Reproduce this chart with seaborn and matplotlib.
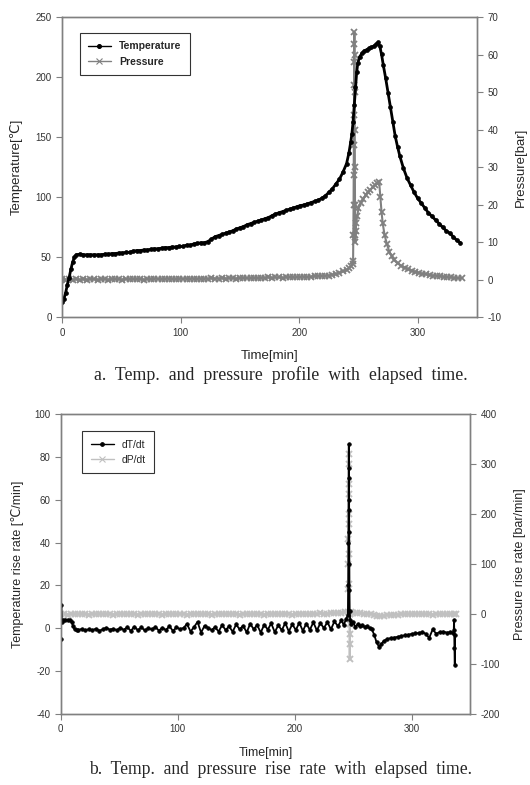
import matplotlib
matplotlib.use("Agg")
import matplotlib.pyplot as plt
import seaborn as sns

# ---- (a) temperature / pressure profile ----
time_temp = [0, 1.5, 3, 4.5, 6, 7.5, 9, 10.5, 12,
             15, 18, 21, 24, 27, 30, 33, 36, 39, 42,
             45, 48, 51, 54, 57, 60, 63, 66, 69, 72,
             75, 78, 81, 84, 87, 90, 93, 96, 99, 102,
             105, 108, 111, 114, 117, 120, 123, 126, 129, 132,
             135, 138, 141, 144, 147, 150, 153, 156, 159, 162,
             165, 168, 171, 174, 177, 180, 183, 186, 189, 192,
             195, 198, 201, 204, 207, 210, 213, 216, 219, 222,
             225, 228, 231, 234, 237, 240,
             242, 243.5, 244.5, 245.5, 246.5, 247.5, 248.5, 249.5,
             251, 253, 255, 257, 259, 261, 263, 265, 266.5,
             268, 269.5, 271, 273, 275, 277, 279, 281, 283, 285,
             288, 291, 294, 297, 300, 303, 306, 309, 312, 315,
             318, 321, 324, 327, 330, 333, 336]
temperature = [13, 15, 20, 27, 33, 40, 46, 50, 52,
               52.5, 52, 52, 52, 52, 52, 52, 52.5, 52.5, 53,
               53, 53.5, 53.5, 54, 54, 55, 55.5, 55.5, 56, 56,
               56.5, 57, 57, 57.5, 58, 58, 58.5, 58.5, 59, 59,
               60, 60, 61, 61.5, 62, 62, 63, 65, 67, 68,
               69, 70, 71, 72, 73.5, 74.5, 75.5, 77, 78, 79,
               80, 81, 82, 83, 84.5, 86, 87, 88, 89, 90,
               91, 92, 93, 93.5, 94.5, 95.5, 96.5, 97.5, 99, 101,
               104, 107, 111, 115, 121, 128,
               137, 146, 153, 163, 177, 192, 204, 212,
               217, 220, 222, 223, 224, 225, 226, 227.5, 229,
               226, 219, 210, 199, 187, 175, 163, 151, 142, 134,
               124, 116, 110, 104, 99, 95, 91, 87, 84, 81,
               78, 75, 72, 70, 67, 64, 62]

time_pres = [0, 3, 6, 9, 12, 15, 18, 21, 24, 27,
             30, 33, 36, 39, 42, 45, 48, 51, 54, 57,
             60, 63, 66, 69, 72, 75, 78, 81, 84, 87,
             90, 93, 96, 99, 102, 105, 108, 111, 114, 117,
             120, 123, 126, 129, 132, 135, 138, 141, 144, 147,
             150, 153, 156, 159, 162, 165, 168, 171, 174, 177,
             180, 183, 186, 189, 192, 195, 198, 201, 204, 207,
             210, 213, 216, 219, 222, 225, 228, 231, 234, 237,
             240, 242, 244, 245,
             245.5, 245.7, 245.9, 246.0, 246.1, 246.2, 246.3, 246.4, 246.5,
             246.6, 246.7, 246.8, 246.9, 247.0, 247.1, 247.2, 247.4,
             247.7, 248, 249, 250, 252, 254, 256, 258, 260, 262,
             264, 266, 267.5, 268.5, 269.5, 270.5, 272, 274, 276, 278, 280,
             283, 286, 289, 292, 295, 298, 301, 304, 307, 310,
             313, 316, 319, 322, 325, 328, 331, 334, 337]
pressure = [0.1, 0.0, 0.2, 0.0, 0.1, 0.0, 0.1, 0.0, 0.2, 0.1,
            0.0, 0.1, 0.2, 0.0, 0.1, 0.2, 0.1, 0.0, 0.2, 0.1,
            0.2, 0.1, 0.2, 0.0, 0.2, 0.1, 0.3, 0.2, 0.1, 0.2,
            0.3, 0.2, 0.1, 0.3, 0.2, 0.3, 0.2, 0.3, 0.2, 0.3,
            0.3, 0.2, 0.4, 0.3, 0.3, 0.4, 0.3, 0.4, 0.4, 0.3,
            0.4, 0.5, 0.4, 0.4, 0.5, 0.4, 0.5, 0.5, 0.6, 0.5,
            0.6, 0.6, 0.5, 0.6, 0.7, 0.6, 0.7, 0.7, 0.8, 0.7,
            0.8, 0.9, 0.9, 1.0, 1.0, 1.1, 1.3, 1.5, 1.8, 2.2,
            2.6, 3.0, 3.6, 4.3,
            5, 12, 20, 28, 36, 44, 52, 58, 63,
            66, 60, 50, 40, 30, 20, 12, 10,
            13, 15, 17, 19, 20.5, 21.5, 22.5, 23.3, 24, 24.6,
            25.2, 25.8, 26, 22, 18, 15, 12, 9.5, 7.5, 6.3, 5.3,
            4.4, 3.7, 3.2, 2.8, 2.4, 2.1, 1.8, 1.6, 1.4, 1.2,
            1.1, 1.0, 0.9, 0.8, 0.7, 0.6, 0.5, 0.4, 0.4]

# ---- (b) rise rates ----
time_dt = [0, 0.5, 1, 2, 4, 6, 8, 9.5, 10.5, 12, 14,
           15, 18, 21, 24, 27, 30, 33, 36, 39, 42,
           45, 48, 51, 54, 57, 60, 63, 66, 69, 72,
           75, 78, 81, 84, 87, 90, 93, 96, 99, 102,
           105, 108, 111, 114, 117, 120, 123, 126, 129, 132,
           135, 138, 141, 144, 147, 150, 153, 156, 159, 162,
           165, 168, 171, 174, 177, 180, 183, 186, 189, 192,
           195, 198, 201, 204, 207, 210, 213, 216, 219, 222,
           225, 228, 231, 234, 237, 240,
           242, 244, 245.5,
           245.8, 246.0, 246.1, 246.2, 246.3, 246.4, 246.5, 246.6, 246.7, 246.8, 247, 247.5, 248,
           250, 252, 254, 256, 258, 260, 262, 264, 266, 268,
           270, 272, 274, 276,
           279, 282, 285, 288, 291, 294, 297, 300, 303, 306,
           309, 312, 315, 318, 321, 324, 327, 330, 333,
           335.5, 336, 336.3, 336.6, 336.9, 337.2]
dT_dt = [-5, 11, 3, 4, 4, 4, 4, 3, 1, -0.5, -1,
         -0.8, -0.3, -1.0, -0.4, -0.9, -0.2, -1.1, -0.5, 0.3, -0.6,
         -0.2, -0.9, 0.2, -0.7, 0.5, -1.2, 0.8, -0.9, 0.4, -1.0,
         0.1, -0.5, 0.6, -1.1, 0.3, -0.8, 1.0, -1.3, 0.5, -0.4,
         0.2, 2.0, -1.5, 0.6, 3.0, -2.0, 1.2, 0.2, -0.8, 0.5,
         -1.5, 1.5, -0.8, 0.9, -1.6, 1.8, -0.5, 1.2, -1.9, 2.1,
         -0.4, 1.5, -2.0, 1.7, -0.6, 2.3, -1.8, 1.4, -0.9, 2.5,
         -1.5, 1.9, -0.8, 2.6, -1.2, 2.2, -0.7, 2.8, -1.0, 2.4,
         0.1, 2.9, -0.5, 3.2, 1.0, 3.8,
         1.5, 4.5, 6,
         20, 40, 55, 70, 86, 75, 60, 45, 30, 18, 8, 4, 2,
         3, 0.5, 2, 1, 1.5, 0.5, 1, 0, -0.5, -3,
         -6.5, -8.5, -7.5, -6,
         -5, -4.6, -4.3, -4, -3.6, -3.3, -3, -2.6, -2.4, -2.2,
         -1.8, -2.5, -4.5, -0.5, -2.5, -1.8, -1.5, -2, -1.8,
         -2, -1, 4, -9, -17, -3]

time_dp = [0, 3, 6, 9, 12, 15, 18, 21, 24, 27,
           30, 33, 36, 39, 42, 45, 48, 51, 54, 57,
           60, 63, 66, 69, 72, 75, 78, 81, 84, 87,
           90, 93, 96, 99, 102, 105, 108, 111, 114, 117,
           120, 123, 126, 129, 132, 135, 138, 141, 144, 147,
           150, 153, 156, 159, 162, 165, 168, 171, 174, 177,
           180, 183, 186, 189, 192, 195, 198, 201, 204, 207,
           210, 213, 216, 219, 222, 225, 228, 231, 234, 237,
           240, 243,
           245.6, 245.8, 245.9, 246.0, 246.1, 246.2, 246.3, 246.4, 246.5, 246.6,
           246.7, 246.8, 246.9, 247.0, 247.1, 247.2, 247.3, 247.5, 248,
           250, 253, 256, 259, 262, 265, 268, 270,
           273, 276, 279, 282, 285, 288, 291, 294, 297, 300,
           303, 306, 309, 312, 315, 318, 321, 324, 327, 330,
           333, 336, 338]
dP_dt = [0, 1, -1, 0.5, 0, -0.5, 1, 0, -1, 0.5,
         0, 1, -0.5, 0, 0.5, -1, 0, 1, 0, -0.5,
         0.5, 0, -1, 1, 0, 0.5, -0.5, 0, 1, -1,
         0, 0.5, 0, -0.5, 1, 0, -1, 0.5, 0, 1,
         -0.5, 0, 0.5, -1, 0, 1, 0, -0.5, 0.5, 0,
         1, -1, 0, 0.5, -0.5, 0, 1, 0, -1, 0.5,
         0, 1, -0.5, 0, 0.5, 1, -1, 0, 1, 0.5,
         0, -0.5, 1, 0, 1.5, 0.5, 1, 2, 1.5, 2.5,
         3, 4,
         5, 50, 100, 150, 200, 260, 320, 300, 240, 180,
         120, 60, 0, -40, -90, -60, -20, 0, 5,
         3, 2, 1.5, 1, 1, 0.5, -1, -3,
         -4, -3, -2, -1.5, -1, -1, -0.5, -0.5, 0, -0.5,
         0, 0.5, -0.5, 0, 0.5, -1, 0, 0.5, 0, -0.5,
         0, 0.5, 0]

sns.set_style("white")
plt.rcParams['font.family'] = ['Liberation Sans', 'DejaVu Sans']
plt.rcParams['axes.unicode_minus'] = False

GREY_AX = "#808080"

fig = plt.figure(figsize=(5.3, 7.85), dpi=100)
ax1 = fig.add_axes([0.117, 0.596, 0.783, 0.382])
ax3 = fig.add_axes([0.1145, 0.0904, 0.7725, 0.3822])


def style_axes(ax, right=False):
    for sp in ax.spines.values():
        sp.set_color(GREY_AX)
        sp.set_linewidth(1.0)
    ax.tick_params(axis="both", direction="out", length=4, width=0.8, color=GREY_AX,
                   labelsize=7, labelcolor="#333333")
    if right:
        ax.tick_params(axis="y", right=True, left=False)
    else:
        ax.tick_params(axis="y", left=True)
        ax.tick_params(axis="x", bottom=True)


# (a)
sns.lineplot(x=time_temp, y=temperature, ax=ax1, color="black", linewidth=2.0,
             marker="o", markersize=2.8, mec="black", mew=0.5,
             estimator=None, sort=False, label="Temperature", legend=False)
ax2 = ax1.twinx()
sns.lineplot(x=time_pres, y=pressure, ax=ax2, color="#808080", linewidth=1.5,
             marker="x", markersize=4.5, mec="#808080", mew=1.3,
             estimator=None, sort=False, label="Pressure", legend=False)
ax2.set_zorder(ax1.get_zorder() - 1)
ax1.patch.set_visible(False)

ax1.set_xlim(0, 350)
ax1.set_ylim(0, 250)
ax2.set_ylim(-10, 70)
ax1.set_xticks([0, 100, 200, 300])
ax1.set_yticks(range(0, 251, 50))
ax2.set_yticks(range(-10, 71, 10))
style_axes(ax1)
style_axes(ax2, right=True)
ax1.set_xlabel("Time[min]", fontsize=9.5, labelpad=9)
ax1.set_ylabel("Temperature[℃]", fontsize=9.5, labelpad=9)
ax2.set_ylabel("Pressure[bar]", fontsize=9.5, labelpad=10)

h = ax1.get_lines()[:1] + ax2.get_lines()[:1]
leg = ax1.legend(h, ["Temperature", "Pressure"], loc="upper left",
                 bbox_to_anchor=(0.03, 0.965), prop={"weight": "bold", "size": 7.5},
                 frameon=True, fancybox=False, handlelength=2.2, borderpad=0.8,
                 labelspacing=0.5)
leg.get_frame().set_edgecolor("black")
leg.get_frame().set_linewidth(0.8)
for ln in leg.get_lines():
    ln.set_linewidth(1.0)
    ln.set_markeredgewidth(0.8)

# (b)
sns.lineplot(x=time_dt, y=dT_dt, ax=ax3, color="black", linewidth=1.3,
             marker="o", markersize=2.6, mec="black", mew=0.5,
             estimator=None, sort=False, label="dT/dt", legend=False)
ax4 = ax3.twinx()
sns.lineplot(x=time_dp, y=dP_dt, ax=ax4, color="#c0c0c0", linewidth=1.5,
             marker="x", markersize=5, mec="#c0c0c0", mew=1.4,
             estimator=None, sort=False, label="dP/dt", legend=False)
ax4.set_zorder(ax3.get_zorder() - 1)
ax3.patch.set_visible(False)

ax3.set_xlim(0, 350)
ax3.set_ylim(-40, 100)
ax4.set_ylim(-200, 400)
ax3.set_xticks([0, 100, 200, 300])
ax3.set_yticks(range(-40, 101, 20))
ax4.set_yticks(range(-200, 401, 100))
style_axes(ax3)
style_axes(ax4, right=True)
ax3.set_xlabel("Time[min]", fontsize=9, labelpad=9)
ax3.set_ylabel("Temperature rise rate [℃/min]", fontsize=9, labelpad=7)
ax4.set_ylabel("Pressure rise rate [bar/min]", fontsize=9, labelpad=10)

h2 = ax3.get_lines()[:1] + ax4.get_lines()[:1]
leg2 = ax3.legend(h2, ["dT/dt", "dP/dt"], loc="upper left",
                  bbox_to_anchor=(0.04, 0.96), prop={"size": 7.5},
                  frameon=True, fancybox=False, handlelength=2.2, borderpad=0.8,
                  labelspacing=0.5)
leg2.get_frame().set_edgecolor("black")
leg2.get_frame().set_linewidth(0.8)
for ln in leg2.get_lines():
    ln.set_linewidth(1.0)
    ln.set_markeredgewidth(0.8)

# captions
fig.text(0.53, 1 - 375 / 785, "a.  Temp.  and  pressure  profile  with  elapsed  time.",
         ha="center", va="center", family="Liberation Serif", fontsize=12.8)
fig.text(0.529, 1 - 770 / 785, "b.  Temp.  and  pressure  rise  rate  with  elapsed  time.",
         ha="center", va="center", family="Liberation Serif", fontsize=12.7)

fig.savefig("out.png", dpi=100)
